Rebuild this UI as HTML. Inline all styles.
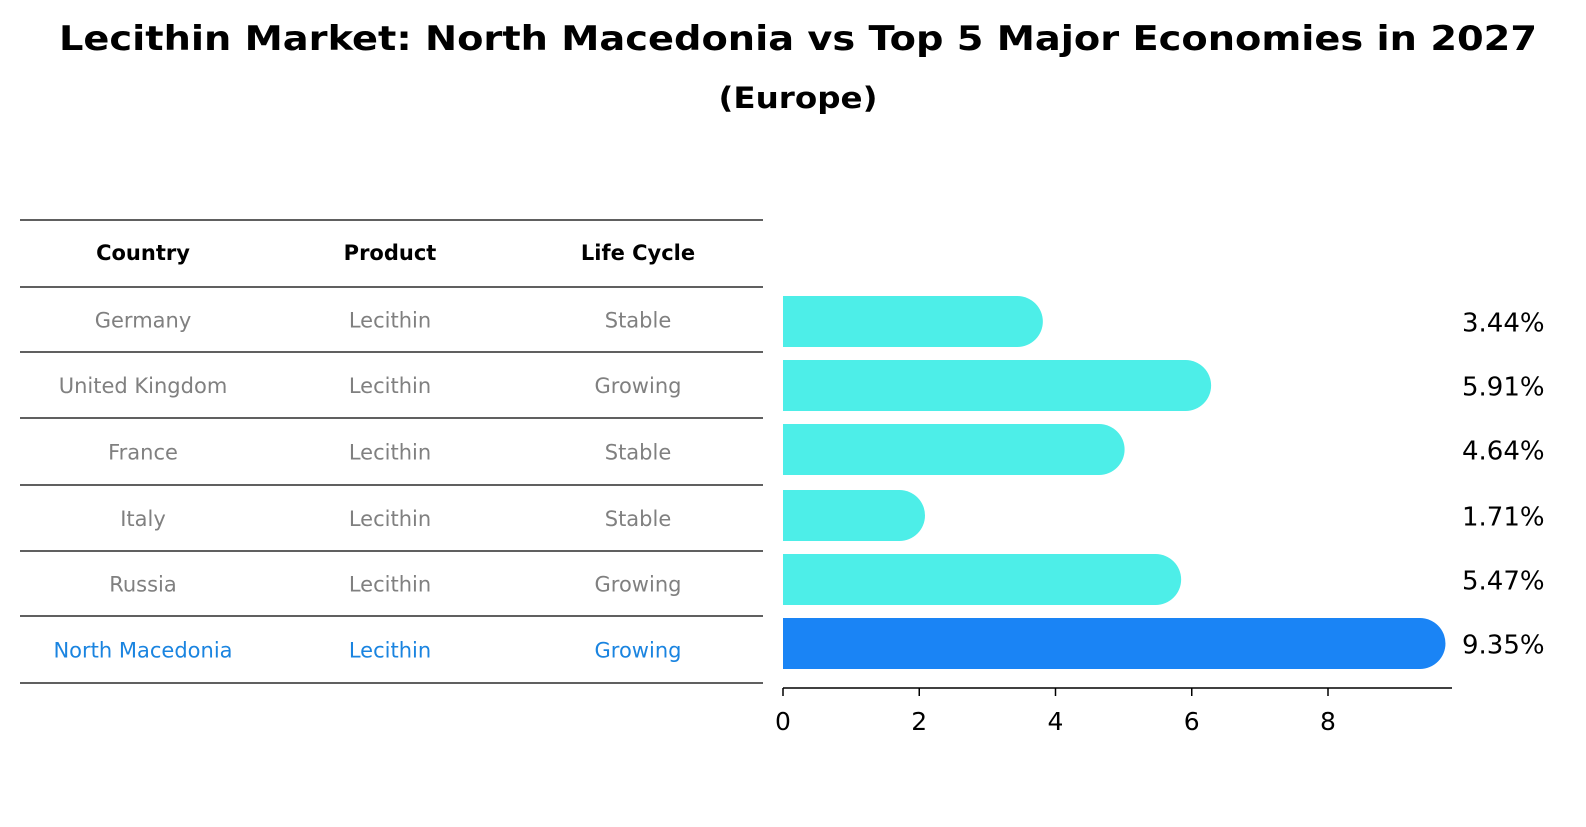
<!DOCTYPE html>
<html><head><meta charset="utf-8"><style>
body{margin:0;background:#fff;width:1586px;height:823px;overflow:hidden;font-family:"DejaVu Sans","Liberation Sans",sans-serif}
</style></head><body>
<svg width="1586" height="823" xmlns="http://www.w3.org/2000/svg" font-family="DejaVu Sans, Liberation Sans, sans-serif">
<text x="798" y="50" text-anchor="middle" font-size="34" font-weight="bold" textLength="1478" lengthAdjust="spacingAndGlyphs">Lecithin Market: North Macedonia vs Top 5 Major Economies in 2027</text>
<text x="798" y="108" text-anchor="middle" font-size="29" font-weight="bold" textLength="159" lengthAdjust="spacingAndGlyphs">(Europe)</text>
<g id="table"></g>
<g id="bars"></g>
</svg>
<script>
const countries=["Germany","United Kingdom","France","Italy","Russia","North Macedonia"];
const products=["Lecithin","Lecithin","Lecithin","Lecithin","Lecithin","Lecithin"];
const lifeCycles=["Stable","Growing","Stable","Stable","Growing","Growing"];
const values=[3.44,5.91,4.64,1.71,5.47,9.35];
const ticks=[0,2,4,6,8];
const NS="http://www.w3.org/2000/svg";
function mk(tag,attrs,parent,text){const e=document.createElementNS(NS,tag);for(const k in attrs)e.setAttribute(k,attrs[k]);if(text!==undefined)e.textContent=text;parent.appendChild(e);return e;}
const tbl=document.getElementById('table');
const lines=[220,287,352,418,485,551,616,683];
lines.forEach(y=>{const l=mk('line',{x1:20,x2:763,y1:y,y2:y,stroke:'#000','stroke-width':1.2},tbl);});
const colX=[143,390,638];
["Country","Product","Life Cycle"].forEach((h,i)=>{const t=mk('text',{x:colX[i],y:260,'text-anchor':'middle','font-size':21,'font-weight':'bold'},tbl,h);});
countries.forEach((c,r)=>{const y=(lines[r+1]+lines[r+2])/2+8;const hi=r===countries.length-1;const col=hi?'#1a84e0':'#808080';
[c,products[r],lifeCycles[r]].forEach((v,i)=>{const t=mk('text',{x:colX[i],y:y,'text-anchor':'middle','font-size':21,fill:col},tbl,v);});});
const g=document.getElementById('bars');
const x0=783,scale=(1328-783)/8;
const xs=v=>x0+v*scale;
const rowTop=[296,360,424,490,554,618],bh=51;
values.forEach((v,i)=>{const y=rowTop[i],r=bh/2,xe=xs(v);const hi=i===values.length-1;
const p=mk('path',{d:`M${x0},${y} H${xe} A${r},${r} 0 0 1 ${xe},${y+bh} H${x0} Z`,fill:hi?'#1a84f5':'#4deee8'},g);

const t=mk('text',{x:1462,y:y+r+10,'font-size':26},g,v.toFixed(2)+'%');});
const ax=mk('line',{x1:x0,x2:1452,y1:688,y2:688,stroke:'#000','stroke-width':1.5},g);
ticks.forEach(v=>{const tl=mk('line',{x1:xs(v),x2:xs(v),y1:688,y2:696,stroke:'#000','stroke-width':1.5},g);
const t=mk('text',{x:xs(v),y:730,'text-anchor':'middle','font-size':25},g,String(v));});
</script>
</body></html>
